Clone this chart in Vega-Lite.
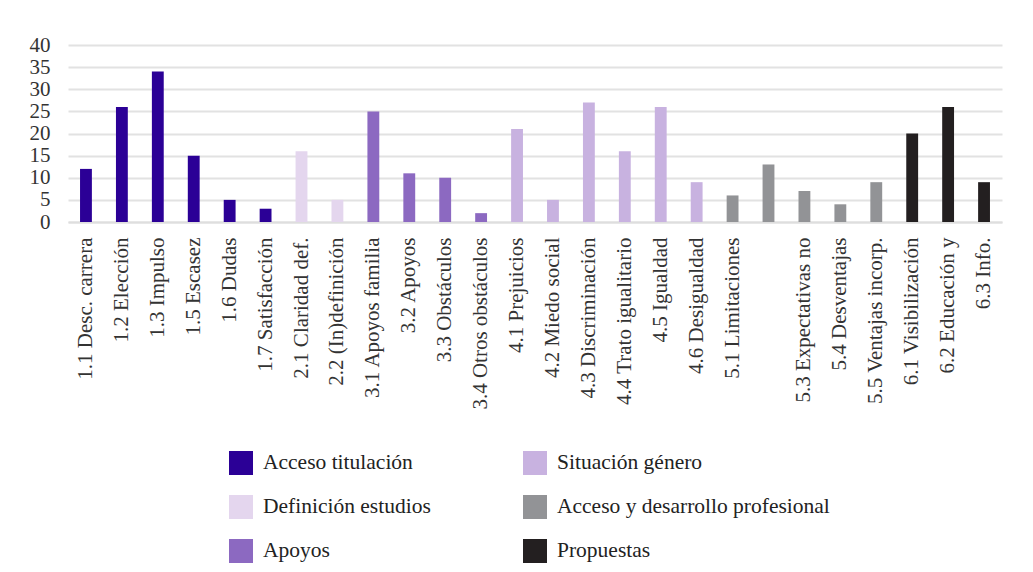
{
  "$schema": "https://vega.github.io/schema/vega-lite/v6.json",
  "autosize": "none",
  "padding": {"left": 68, "top": 45, "right": 31, "bottom": 350},
  "width": 934,
  "height": 177,
  "background": "white",
  "data": {
    "values": [
      {"cat": "1.1 Desc. carrera", "n": 12, "grupo": "Acceso titulación"},
      {"cat": "1.2 Elección", "n": 26, "grupo": "Acceso titulación"},
      {"cat": "1.3 Impulso", "n": 34, "grupo": "Acceso titulación"},
      {"cat": "1.5 Escasez", "n": 15, "grupo": "Acceso titulación"},
      {"cat": "1.6 Dudas", "n": 5, "grupo": "Acceso titulación"},
      {"cat": "1.7 Satisfacción", "n": 3, "grupo": "Acceso titulación"},
      {"cat": "2.1 Claridad def.", "n": 16, "grupo": "Definición estudios"},
      {"cat": "2.2 (In)definición", "n": 5, "grupo": "Definición estudios"},
      {"cat": "3.1 Apoyos familia", "n": 25, "grupo": "Apoyos"},
      {"cat": "3.2 Apoyos", "n": 11, "grupo": "Apoyos"},
      {"cat": "3.3 Obstáculos", "n": 10, "grupo": "Apoyos"},
      {"cat": "3.4 Otros obstáculos", "n": 2, "grupo": "Apoyos"},
      {"cat": "4.1 Prejuicios", "n": 21, "grupo": "Situación género"},
      {"cat": "4.2 Miedo social", "n": 5, "grupo": "Situación género"},
      {"cat": "4.3 Discriminación", "n": 27, "grupo": "Situación género"},
      {"cat": "4.4 Trato igualitario", "n": 16, "grupo": "Situación género"},
      {"cat": "4.5 Igualdad", "n": 26, "grupo": "Situación género"},
      {"cat": "4.6 Desigualdad", "n": 9, "grupo": "Situación género"},
      {"cat": "5.1 Limitaciones", "n": 6, "grupo": "Acceso y desarrollo profesional"},
      {"cat": " ", "n": 13, "grupo": "Acceso y desarrollo profesional"},
      {"cat": "5.3 Expectativas no", "n": 7, "grupo": "Acceso y desarrollo profesional"},
      {"cat": "5.4 Desventajas", "n": 4, "grupo": "Acceso y desarrollo profesional"},
      {"cat": "5.5 Ventajas incorp.", "n": 9, "grupo": "Acceso y desarrollo profesional"},
      {"cat": "6.1 Visibilización", "n": 20, "grupo": "Propuestas"},
      {"cat": "6.2 Educación y", "n": 26, "grupo": "Propuestas"},
      {"cat": "6.3 Info.", "n": 9, "grupo": "Propuestas"}
    ]
  },
  "mark": {"type": "bar"},
  "encoding": {
    "x": {
      "field": "cat",
      "type": "nominal",
      "sort": null,
      "title": null,
      "scale": {"paddingInner": 0.67, "paddingOuter": 0.335},
      "axis": {
        "labelAngle": -90,
        "labelAlign": "right",
        "labelBaseline": "middle",
        "labelFont": "Liberation Serif",
        "labelFontSize": 21,
        "labelColor": "#333333",
        "labelPadding": 15,
        "labelLimit": 300,
        "ticks": false,
        "domainColor": "#dedede",
        "domainWidth": 2
      }
    },
    "y": {
      "field": "n",
      "type": "quantitative",
      "title": null,
      "scale": {"domain": [0, 40]},
      "axis": {
        "values": [0, 5, 10, 15, 20, 25, 30, 35, 40],
        "labelFont": "Liberation Serif",
        "labelFontSize": 21,
        "labelColor": "#333333",
        "labelPadding": 18,
        "ticks": false,
        "domain": false,
        "gridColor": "#e2e2e2",
        "gridWidth": 2
      }
    },
    "color": {
      "field": "grupo",
      "type": "nominal",
      "title": null,
      "scale": {
        "domain": ["Acceso titulación", "Definición estudios", "Apoyos", "Situación género", "Acceso y desarrollo profesional", "Propuestas"],
        "range": ["#2b0096", "#e4d6ee", "#8c69c1", "#c8b2e0", "#929396", "#231f20"]
      },
      "legend": {
        "orient": "none",
        "legendX": 161,
        "legendY": 406,
        "columns": 2,
        "columnPadding": 92,
        "rowPadding": 20,
        "padding": 0,
        "symbolType": "square",
        "symbolSize": 576,
        "symbolStrokeWidth": 0,
        "labelOffset": 10,
        "labelFont": "Liberation Serif",
        "labelFontSize": 21.5,
        "labelColor": "#222222",
        "labelLimit": 400
      }
    }
  },
  "config": {
    "view": {"stroke": null}
  }
}
